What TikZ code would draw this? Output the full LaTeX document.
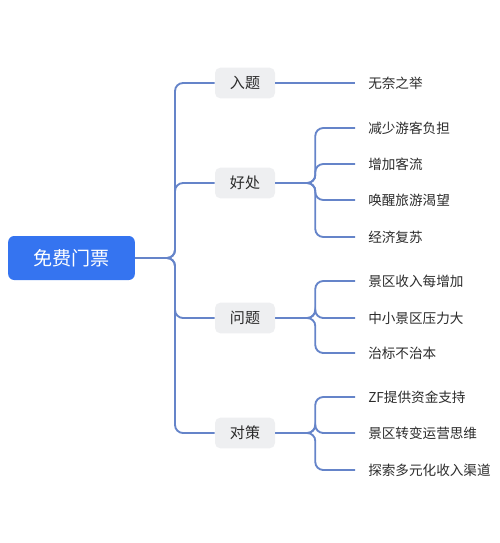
\documentclass[tikz,border=0pt]{standalone}
\usepackage{fontspec}
\newfontfamily\cjk{Noto Sans CJK SC}
\definecolor{rootblue}{HTML}{3574F0}
\definecolor{linkblue}{HTML}{6584C9}
\definecolor{topicgray}{HTML}{EEEFF1}
\definecolor{txtgray}{HTML}{2B2B2B}
\begin{document}
\begin{tikzpicture}[x=0.75pt, y=-0.75pt,
  rootbox/.style={fill=rootblue, rounded corners=4.5pt, text=white, minimum width=95pt, minimum height=33pt, font=\cjk\fontsize{14.3}{16}\selectfont},
  topic/.style={fill=topicgray, rounded corners=4pt, text=txtgray, minimum width=45pt, minimum height=23pt, font=\cjk\fontsize{11.3}{13}\selectfont},
  leaf/.style={anchor=west, inner xsep=9.75pt, inner ysep=0pt, text=txtgray, font=\cjk\fontsize{10.2}{12}\selectfont},
  link/.style={draw=linkblue, line width=1.4pt, rounded corners=6pt}]
  \useasboundingbox (0,0) rectangle (500,543);

  \node[rootbox] (root) at (71.5,258) {免费门票};
  \coordinate (trunk) at (175,258);

  \node[topic] (ruti) at (245,83) {入题};
  \node[topic] (haochu) at (245,183) {好处};
  \node[topic] (wenti) at (245,318) {问题};
  \node[topic] (duice) at (245,433) {对策};

  \node[leaf] (ruti1) at (355,83) {无奈之举};

  \node[leaf] (haochu1) at (355,128) {减少游客负担};
  \node[leaf] (haochu2) at (355,164) {增加客流};
  \node[leaf] (haochu3) at (355,200) {唤醒旅游渴望};
  \node[leaf] (haochu4) at (355,237) {经济复苏};

  \node[leaf] (wenti1) at (355,281) {景区收入每增加};
  \node[leaf] (wenti2) at (355,318) {中小景区压力大};
  \node[leaf] (wenti3) at (355,353) {治标不治本};

  \node[leaf] (duice1) at (355,397) {ZF提供资金支持};
  \node[leaf] (duice2) at (355,433) {景区转变运营思维};
  \node[leaf] (duice3) at (355,470) {探索多元化收入渠道};

  % root to topics
  \foreach \t in {ruti,haochu,wenti,duice}
    \draw[link] (root.east) -- (trunk) |- (\t.west);

  % topics to leaves
  \draw[link] (ruti.east) -- (ruti1.west);
  \foreach \l in {haochu1,haochu2,haochu3,haochu4}
    \draw[link] (haochu.east) -- ++(40,0) |- (\l.west);
  \foreach \l in {wenti1,wenti2,wenti3}
    \draw[link] (wenti.east) -- ++(40,0) |- (\l.west);
  \foreach \l in {duice1,duice2,duice3}
    \draw[link] (duice.east) -- ++(40,0) |- (\l.west);
\end{tikzpicture}
\end{document}
